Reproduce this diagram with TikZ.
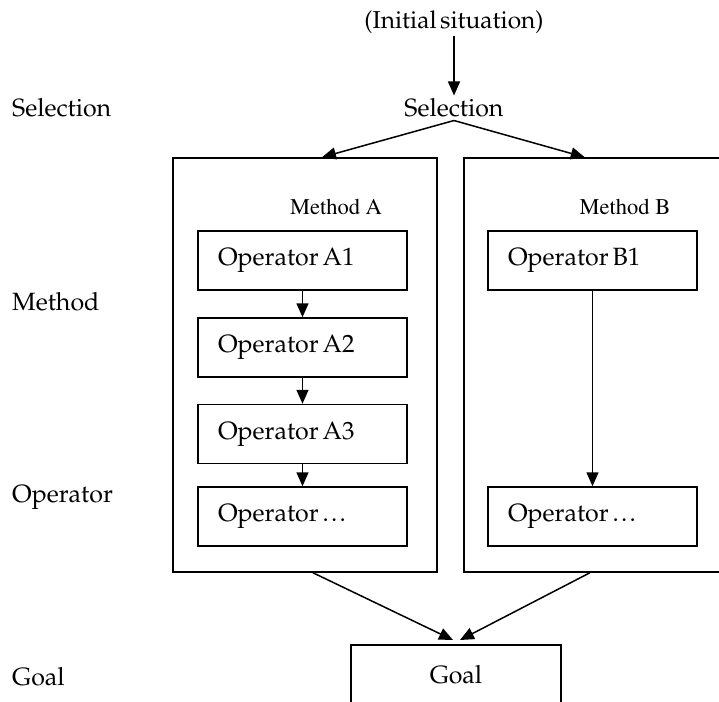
\documentclass[tikz,border=0pt]{standalone}
\usepackage[T1]{fontenc}
\renewcommand{\rmdefault}{ppl}
\usetikzlibrary{arrows.meta,calc}
\newcommand{\mydots}{.\kern2.2pt.\kern2.2pt.}
\newcommand{\mainfnt}{\fontsize{25}{30}\selectfont}
\newcommand{\initfnt}{\fontsize{24.5}{28}\selectfont\spaceskip=3.5pt plus 1pt minus 1pt\relax}
\newcommand{\tightsp}{\spaceskip=4pt plus 1pt minus 1pt\relax}
\tikzset{
  main/.style={font=\mainfnt},
  initf/.style={font=\initfnt},
  methf/.style={font=\fontfamily{ptm}\fontsize{22.5}{26}\selectfont},
  line/.style={line width=1.5pt},
  arr/.style={line, -{Triangle[length=14pt,width=12pt]}},
  opbox/.style={draw, line, main, minimum height=59pt, text width=169pt, inner xsep=20pt, inner ysep=0pt, align=left, execute at begin node=\tightsp},
  bigbox/.style={draw, line, minimum height=414pt},
  leftlabel/.style={main, anchor=west, inner sep=0pt},
}
\begin{document}
\begin{tikzpicture}[x=1pt,y=-1pt]
\useasboundingbox (0,0) rectangle (719,701);
% left labels
\node[leftlabel] (lsel) at (12,108) {Selection};
\node[leftlabel] (lmeth) at (12,302) {Method};
\node[leftlabel] (lop) at (12,497) {Operator};
\node[leftlabel] (lgoal) at (12,677) {Goal};
% top
\node[initf, inner sep=2pt] (init) at (454,22) {(Initial situation)};
\node[main, inner sep=3pt] (sel) at (454,108) {Selection};
% method boxes
\node[bigbox, minimum width=264pt] (ma) at (305,365) {};
\node[bigbox, minimum width=257pt] (mb) at (592.5,365) {};
\node[methf] (mal) at (336,207) {Method A};
\node[methf] (mbl) at (625,207) {Method B};
% operators A
\node[opbox] (a1) at (302.5,260.5) {Operator A1};
\node[opbox] (a2) at (302.5,347.5) {Operator A2};
\node[opbox] (a3) at (302.5,434) {Operator A3};
\node[opbox] (a4) at (302.5,516.5) {Operator \mydots};
% operators B
\node[opbox] (b1) at (592.5,260.5) {Operator B1};
\node[opbox] (b4) at (592.5,516.5) {Operator \mydots};
% goal
\node[draw, line, main, minimum width=210pt, minimum height=60pt] (goal) at (456,675) {Goal};
% coordinates
\coordinate (maIn) at ($(ma.north west)!0.564!(ma.north east)$);
\coordinate (mbIn) at ($(mb.north west)!0.47!(mb.north east)$);
\coordinate (maOut) at ($(ma.south west)!0.53!(ma.south east)$);
\coordinate (mbOut) at ($(mb.south west)!0.49!(mb.south east)$);
\coordinate (gl) at (453,640);
\coordinate (gr) at (460,640);
% connectors
\draw[arr] (init) -- (sel);
\draw[arr] (sel.south) -- (maIn);
\draw[arr] (sel.south) -- (mbIn);
\draw[arr] (a1) -- (a2);
\draw[arr] (a2) -- (a3);
\draw[arr] (a3) -- (a4);
\draw[arr] (b1) -- (b4);
\draw[arr] (maOut) -- (gl);
\draw[arr] (mbOut) -- (gr);
\end{tikzpicture}
\end{document}
